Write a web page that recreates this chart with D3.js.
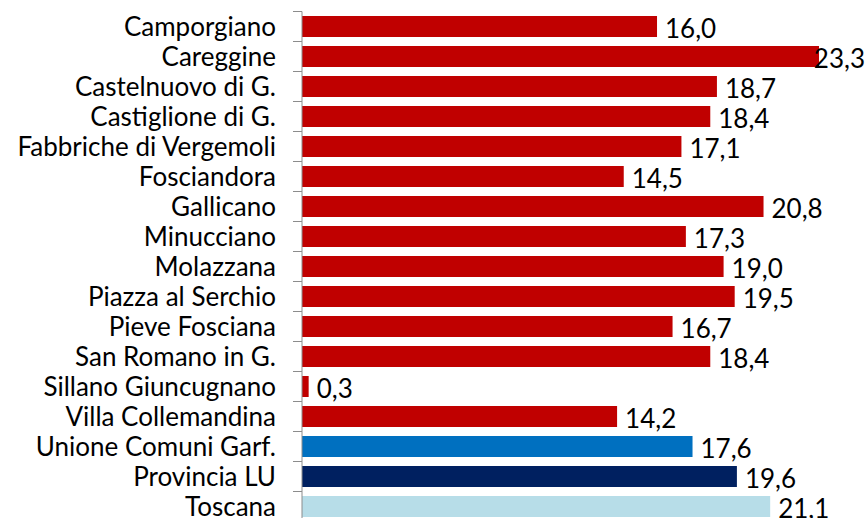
<!DOCTYPE html>
<html>
<head>
<meta charset="utf-8">
<script src="https://cdn.jsdelivr.net/npm/d3@7"></script>
<style>
  html, body { margin: 0; padding: 0; background: #fff; }
  svg { display: block; }
  text { font-family: Lato, "Open Sans", sans-serif; fill: #000; }
</style>
</head>
<body>
<svg id="chart" width="868" height="518"></svg>
<script>
const categories = [
  "Camporgiano", "Careggine", "Castelnuovo di G.", "Castiglione di G.",
  "Fabbriche di Vergemoli", "Fosciandora", "Gallicano", "Minucciano",
  "Molazzana", "Piazza al Serchio", "Pieve Fosciana", "San Romano in G.",
  "Sillano Giuncugnano", "Villa Collemandina", "Unione Comuni Garf.",
  "Provincia LU", "Toscana"
];
const values = [16.0, 23.3, 18.7, 18.4, 17.1, 14.5, 20.8, 17.3, 19.0, 19.5, 16.7, 18.4, 0.3, 14.2, 17.6, 19.6, 21.1];
const groups = ["comune","comune","comune","comune","comune","comune","comune","comune","comune","comune","comune","comune","comune","comune","unione","provincia","regione"];
const groupColors = { comune: "#C00000", unione: "#0070C0", provincia: "#002060", regione: "#B7DDE8" };

const W = 868, H = 518;
const svg = d3.select("#chart");
const axisX = 302;

const x = d3.scaleLinear().domain([0, 23.3]).range([axisX, 819]);
const y = d3.scaleBand().domain(categories).range([11.5, 521.5]).paddingInner(0.3).paddingOuter(0.15);

const fmt = v => d3.format(".1f")(v).replace(".", ",");

// bars
svg.append("g").selectAll("rect").data(categories).join("rect")
  .attr("x", x(0))
  .attr("y", d => y(d))
  .attr("width", (d, i) => x(values[i]) - x(0))
  .attr("height", y.bandwidth())
  .attr("fill", (d, i) => groupColors[groups[i]]);

// axis line and ticks
const ax = svg.append("g");
ax.append("line").attr("x1", axisX).attr("x2", axisX).attr("y1", y.range()[0]).attr("y2", y.range()[1])
  .attr("stroke", "#8c8c8c").attr("stroke-width", 1);
const step = y.step();
const bounds = categories.map(c => y(c) - step * y.paddingInner() / 2);
ax.selectAll("line.tick").data(bounds).join("line").attr("class", "tick")
  .attr("x1", axisX - 9).attr("x2", axisX).attr("y1", d => d).attr("y2", d => d)
  .attr("stroke", "#8c8c8c").attr("stroke-width", 1);

// category labels
svg.append("g").selectAll("text").data(categories).join("text")
  .attr("x", 276)
  .attr("y", d => y(d) + y.bandwidth() / 2)
  .attr("dy", "0.36em")
  .attr("text-anchor", "end")
  .style("font-size", "26px")
  .text(d => d);

// value labels
const vl = svg.append("g").selectAll("text").data(categories).join("text")
  .attr("y", d => y(d) + y.bandwidth() / 2 + 2)
  .attr("dy", "0.36em")
  .style("font-size", "26px")
  .text((d, i) => fmt(values[i]));
vl.each(function(d, i) {
  const w = this.getComputedTextLength();
  const px = Math.min(x(values[i]) + 8, W - 3 - w);
  d3.select(this).attr("x", px);
});
</script>
</body>
</html>
